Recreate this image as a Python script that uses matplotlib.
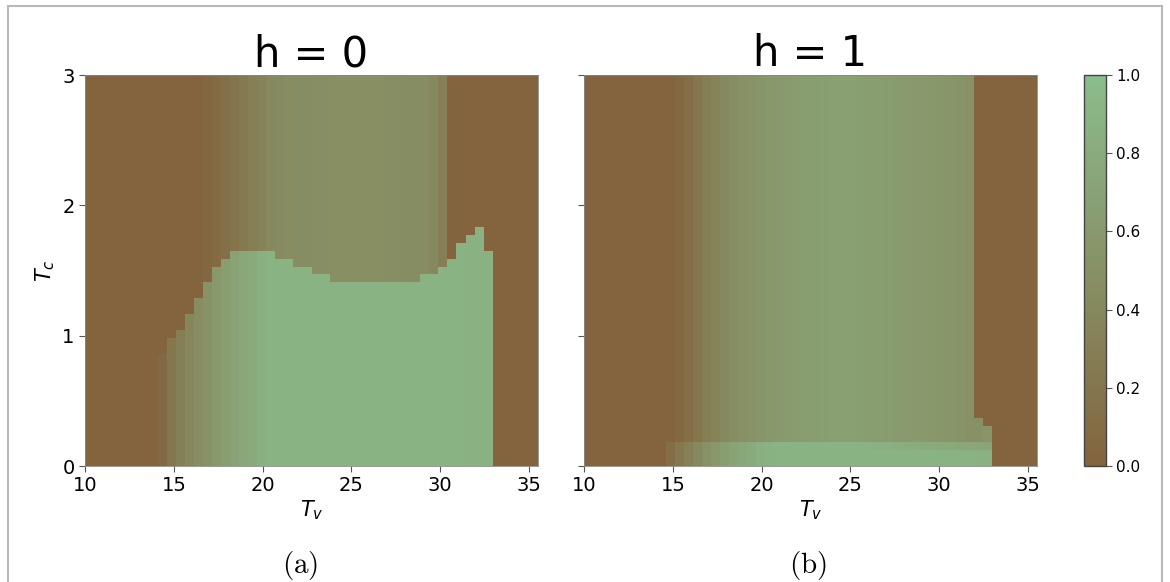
import numpy as np
import matplotlib
matplotlib.use("Agg")
import matplotlib.pyplot as plt
from matplotlib.colors import LinearSegmentedColormap
from matplotlib.patches import Rectangle

# ---------------- data ----------------
tv_edges = np.linspace(10, 35.5, 51)   # 50 columns
tc_edges = np.linspace(0, 3, 50)       # 49 rows
x_ticks = [10, 15, 20, 25, 30, 35]
y_ticks = [0, 1, 2, 3]
cbar_ticks = [0.0, 0.2, 0.4, 0.6, 0.8, 1.0]
titles = ["h = 0", "h = 1"]
captions = ["(a)", "(b)"]

# h = 0 : value below the boundary, boundary height, value above
h0_lower = [0, 0, 0, 0, 0, 0, 0, 0, 0.06, 0.20,
            0.30, 0.38, 0.45, 0.52, 0.58, 0.64, 0.70, 0.75, 0.80, 0.84,
            0.88, 0.88, 0.88, 0.88, 0.88, 0.88, 0.88, 0.88, 0.88, 0.88,
            0.88, 0.88, 0.88, 0.88, 0.88, 0.88, 0.88, 0.88, 0.88, 0.88,
            0.88, 0.88, 0.87, 0.86, 0.86, 0, 0, 0, 0, 0]
h0_boundary = [0, 0, 0, 0, 0, 0, 0, 0, 0.86, 0.98,
               1.04, 1.16, 1.29, 1.41, 1.53, 1.59, 1.65, 1.65, 1.65, 1.65,
               1.65, 1.59, 1.59, 1.53, 1.53, 1.47, 1.47, 1.41, 1.41, 1.41,
               1.41, 1.41, 1.41, 1.41, 1.41, 1.41, 1.41, 1.47, 1.47, 1.53,
               1.59, 1.71, 1.77, 1.83, 1.65, 0, 0, 0, 0, 0]
h0_upper = [0, 0, 0, 0, 0, 0, 0, 0, 0, 0,
            0, 0, 0, 0.04, 0.08, 0.13, 0.18, 0.24, 0.30, 0.35,
            0.40, 0.43, 0.45, 0.46, 0.46, 0.47, 0.47, 0.48, 0.48, 0.48,
            0.48, 0.48, 0.48, 0.47, 0.47, 0.46, 0.46, 0.45, 0.40, 0.30,
            0, 0, 0, 0, 0, 0, 0, 0, 0, 0]

# h = 1 : bottom rows, band row, corner step, main body
h1_floor = [0, 0, 0, 0, 0, 0, 0, 0, 0, 0.12,
            0.22, 0.32, 0.42, 0.50, 0.58, 0.65, 0.71, 0.76, 0.80, 0.84,
            0.86, 0.88, 0.88, 0.88, 0.88, 0.88, 0.88, 0.88, 0.88, 0.88,
            0.88, 0.88, 0.88, 0.88, 0.88, 0.88, 0.88, 0.88, 0.88, 0.88,
            0.88, 0.88, 0.88, 0.87, 0.86, 0, 0, 0, 0, 0]
h1_band = [0, 0, 0, 0, 0, 0, 0, 0, 0, 0.12,
           0.22, 0.32, 0.42, 0.50, 0.58, 0.65, 0.71, 0.76, 0.80, 0.84,
           0.86, 0.88, 0.88, 0.88, 0.88, 0.88, 0.88, 0.88, 0.88, 0.88,
           0.87, 0.86, 0.85, 0.84, 0.83, 0.82, 0.81, 0.80, 0.79, 0.78,
           0.77, 0.76, 0.75, 0.74, 0.73, 0, 0, 0, 0, 0]
h1_floor_top = 0.12
h1_band_top = 0.18
h1_step_top = [0.18] * 24 + [2.0] + [0.18] * 18 + [0.36, 0.30] + [0.18] * 5
h1_step = [0] * 24 + [0.655] + [0] * 18 + [0.50, 0.55] + [0] * 5
h1_upper = [0, 0, 0, 0, 0, 0, 0, 0, 0, 0,
            0.05, 0.12, 0.20, 0.28, 0.35, 0.41, 0.46, 0.50, 0.53, 0.56,
            0.58, 0.60, 0.62, 0.63, 0.64, 0.65, 0.66, 0.67, 0.67, 0.67,
            0.66, 0.65, 0.64, 0.63, 0.62, 0.61, 0.60, 0.59, 0.58, 0.57,
            0.56, 0.54, 0.50, 0, 0, 0, 0, 0, 0, 0]

# ---------------- grids ----------------
tc_c = 0.5 * (tc_edges[:-1] + tc_edges[1:])
ncol = len(tv_edges) - 1

Z0 = np.zeros((len(tc_c), ncol))
for j in range(ncol):
    below = tc_c < h0_boundary[j]
    Z0[:, j] = np.where(below, h0_lower[j], h0_upper[j])

Z1 = np.zeros((len(tc_c), ncol))
for j in range(ncol):
    col = np.full(len(tc_c), h1_upper[j], dtype=float)
    col[tc_c < h1_step_top[j]] = h1_step[j]
    if h1_floor[j] > 0:
        col[tc_c < h1_band_top] = h1_band[j]
        col[tc_c < h1_floor_top] = h1_floor[j]
    Z1[:, j] = col

cmap = LinearSegmentedColormap.from_list("bg", ["#83643e", "#8bbd8c"])

# ---------------- figure ----------------
fig = plt.figure(figsize=(11.7, 5.82), dpi=100)
W, H = 1170, 582

def rect(x0, y0, x1, y1):
    return [x0 / W, 1 - y1 / H, (x1 - x0) / W, (y1 - y0) / H]

ax0 = fig.add_axes(rect(85, 75, 538, 466))
ax1 = fig.add_axes(rect(584, 75, 1037, 466))
cax = fig.add_axes(rect(1084, 75, 1106, 466))

for ax, Z, title in [(ax0, Z0, titles[0]), (ax1, Z1, titles[1])]:
    mesh = ax.pcolormesh(tv_edges, tc_edges, Z, cmap=cmap, vmin=0, vmax=1,
                         shading="flat", rasterized=True)
    ax.set_xlim(10, 35.5)
    ax.set_ylim(0, 3)
    ax.set_xticks(x_ticks)
    ax.set_yticks(y_ticks)
    ax.tick_params(labelsize=14, color="#555555", length=4)
    ax.set_title(title, fontsize=30, pad=6)
    ax.set_xlabel(r"$T_v$", fontsize=15, labelpad=2)
    for s in ax.spines.values():
        s.set_linewidth(0.6)
        s.set_color("#888888")

ax0.set_ylabel(r"$T_c$", fontsize=15, labelpad=4)
ax1.tick_params(labelleft=False)

cb = fig.colorbar(mesh, cax=cax, ticks=cbar_ticks)
cb.ax.tick_params(labelsize=11, color="#555555", length=4)
cb.outline.set_linewidth(1.0)
cb.outline.set_edgecolor("#444444")

fig.text(300 / W, 1 - 566 / H, r"$\mathrm{" + captions[0] + "}$", fontsize=21,
         ha="center", va="center", math_fontfamily="cm")
fig.text(808 / W, 1 - 566 / H, r"$\mathrm{" + captions[1] + "}$", fontsize=21,
         ha="center", va="center", math_fontfamily="cm")

fig.patches.append(Rectangle((7.5 / W, -0.05), (1162 - 7.5) / W, 1.05 - 6 / H,
                             transform=fig.transFigure, fill=False,
                             edgecolor="#b8b8b8", linewidth=1.5))

fig.savefig("out.png", dpi=100)
